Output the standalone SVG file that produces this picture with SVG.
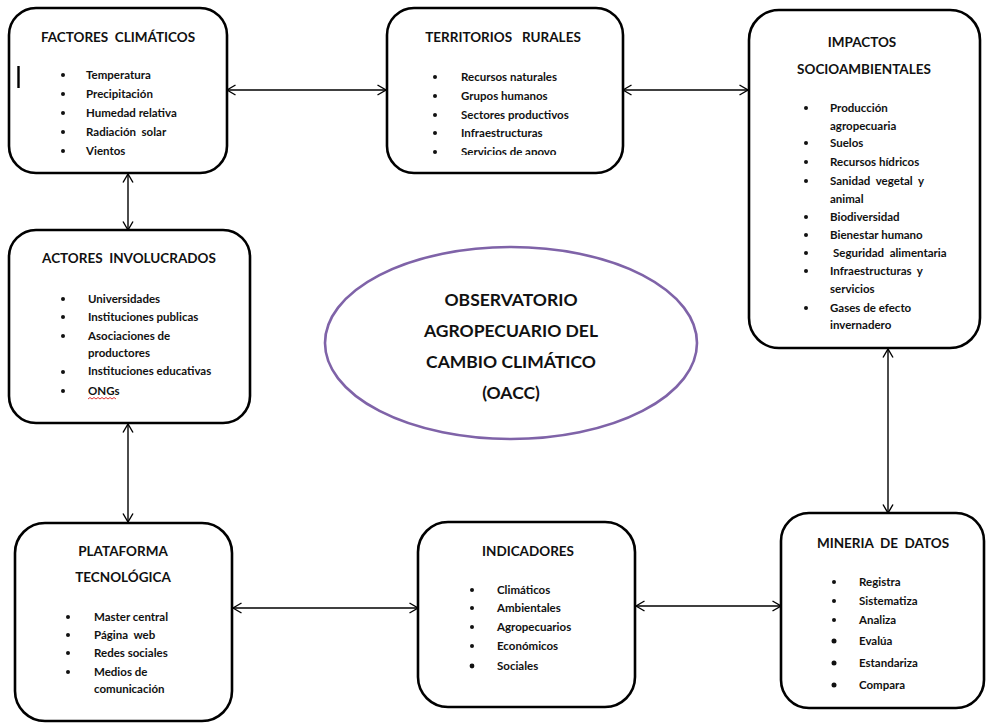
<svg xmlns="http://www.w3.org/2000/svg" width="987" height="724" viewBox="0 0 987 724" xml:space="preserve">
<style>
.box{fill:#fff;stroke:#000;stroke-width:2.6}
text{white-space:pre}
.t{font-family:Lato,"Liberation Sans",sans-serif;font-weight:bold;font-size:13.5px;fill:#111;text-anchor:middle}
.i{font-family:Lato,"Liberation Sans",sans-serif;font-weight:bold;font-size:11.5px;fill:#111}
.c{font-family:Lato,"Liberation Sans",sans-serif;font-weight:bold;font-size:17.5px;fill:#111;text-anchor:middle}
.b{fill:#111}
.con{stroke:#000;stroke-width:1.4;fill:none;marker-start:url(#ah);marker-end:url(#ah)}
</style>
<defs>
<marker id="ah" viewBox="0 0 10 12" refX="9.5" refY="6" markerWidth="10" markerHeight="12" markerUnits="userSpaceOnUse" orient="auto-start-reverse">
<path d="M1,1 L9.5,6 L1,11" fill="none" stroke="#000" stroke-width="1.4"/>
</marker>
<clipPath id="clip2"><rect x="387" y="8" width="236" height="147"/></clipPath>
</defs>
<rect width="987" height="724" fill="#fff"/>
<g id="connectors">
<line class="con" x1="227" y1="90" x2="386" y2="90"/>
<line class="con" x1="623" y1="90" x2="748" y2="90"/>
<line class="con" x1="128" y1="174" x2="128" y2="230"/>
<line class="con" x1="128" y1="424" x2="128" y2="522"/>
<line class="con" x1="888" y1="349" x2="888" y2="513"/>
<line class="con" x1="233" y1="608" x2="418" y2="608"/>
<line class="con" x1="636" y1="606" x2="781" y2="606"/>
</g>
<g id="factores">
<rect class="box" x="9" y="8" width="218" height="165" rx="27"/>
<line x1="18.5" y1="66" x2="18.5" y2="88" stroke="#000" stroke-width="2.4"/>
<text class="t" x="118" y="42">FACTORES  CLIMÁTICOS</text>
<circle class="b" cx="63" cy="75" r="2"/><text class="i" x="86" y="79">Temperatura</text>
<circle class="b" cx="63" cy="94" r="2"/><text class="i" x="86" y="98">Precipitación</text>
<circle class="b" cx="63" cy="113" r="2"/><text class="i" x="86" y="117">Humedad relativa</text>
<circle class="b" cx="63" cy="132" r="2"/><text class="i" x="86" y="136">Radiación  solar</text>
<circle class="b" cx="63" cy="151" r="2"/><text class="i" x="86" y="155">Vientos</text>
</g>
<g id="territorios">
<rect class="box" x="387" y="8" width="236" height="165" rx="27"/>
<text class="t" x="503" y="42">TERRITORIOS   RURALES</text>
<circle class="b" cx="435" cy="77" r="2"/><text class="i" x="461" y="81">Recursos naturales</text>
<circle class="b" cx="435" cy="96" r="2"/><text class="i" x="461" y="100">Grupos humanos</text>
<circle class="b" cx="435" cy="115" r="2"/><text class="i" x="461" y="119">Sectores productivos</text>
<circle class="b" cx="435" cy="133" r="2"/><text class="i" x="461" y="137">Infraestructuras</text>
<circle class="b" cx="435" cy="152" r="2"/><text class="i" x="461" y="156" clip-path="url(#clip2)">Servicios de apoyo</text>
</g>
<g id="impactos">
<rect class="box" x="749" y="10" width="231" height="338" rx="30"/>
<text class="t" x="862" y="47">IMPACTOS</text>
<text class="t" x="864" y="74">SOCIOAMBIENTALES</text>
<circle class="b" cx="806" cy="108" r="2"/><text class="i" x="830" y="112">Producción</text>
<text class="i" x="830" y="130">agropecuaria</text>
<circle class="b" cx="806" cy="143" r="2"/><text class="i" x="830" y="147">Suelos</text>
<circle class="b" cx="806" cy="162" r="2"/><text class="i" x="830" y="166">Recursos hídricos</text>
<circle class="b" cx="806" cy="181" r="2"/><text class="i" x="830" y="185">Sanidad  vegetal  y</text>
<text class="i" x="830" y="203">animal</text>
<circle class="b" cx="806" cy="217" r="2"/><text class="i" x="830" y="221">Biodiversidad</text>
<circle class="b" cx="806" cy="235" r="2"/><text class="i" x="830" y="239">Bienestar humano</text>
<circle class="b" cx="806" cy="253" r="2"/><text class="i" x="833" y="257">Seguridad  alimentaria</text>
<circle class="b" cx="806" cy="271" r="2"/><text class="i" x="830" y="275">Infraestructuras  y</text>
<text class="i" x="830" y="293">servicios</text>
<circle class="b" cx="806" cy="308" r="2"/><text class="i" x="830" y="312">Gases de efecto</text>
<text class="i" x="830" y="329">invernadero</text>
</g>
<g id="actores">
<rect class="box" x="9" y="230" width="241" height="193" rx="27"/>
<text class="t" x="129" y="263">ACTORES  INVOLUCRADOS</text>
<circle class="b" cx="63" cy="299" r="2"/><text class="i" x="88" y="303">Universidades</text>
<circle class="b" cx="63" cy="317" r="2"/><text class="i" x="88" y="321">Instituciones publicas</text>
<circle class="b" cx="63" cy="336" r="2"/><text class="i" x="88" y="340">Asociaciones de</text>
<text class="i" x="88" y="357">productores</text>
<circle class="b" cx="63" cy="372" r="2"/><text class="i" x="88" y="375">Instituciones educativas</text>
<circle class="b" cx="63" cy="391" r="2"/><text class="i" x="88" y="395">ONGs</text>
<path d="M88,399 l2,-1.5 l2,1.5 l2,-1.5 l2,1.5 l2,-1.5 l2,1.5 l2,-1.5 l2,1.5 l2,-1.5 l2,1.5 l2,-1.5 l2,1.5 l2,-1.5 l2,1.5" fill="none" stroke="#e02020" stroke-width="0.9"/>
</g>
<g id="plataforma">
<rect class="box" x="15" y="523" width="217" height="198" rx="30"/>
<text class="t" x="123" y="556">PLATAFORMA</text>
<text class="t" x="123" y="582">TECNOLÓGICA</text>
<circle class="b" cx="68" cy="617" r="2"/><text class="i" x="94" y="621">Master central</text>
<circle class="b" cx="68" cy="635" r="2"/><text class="i" x="94" y="639">Página  web</text>
<circle class="b" cx="68" cy="653" r="2"/><text class="i" x="94" y="657">Redes sociales</text>
<circle class="b" cx="68" cy="672" r="2"/><text class="i" x="94" y="676">Medios de</text>
<text class="i" x="94" y="693">comunicación</text>
</g>
<g id="indicadores">
<rect class="box" x="418" y="522" width="217" height="185" rx="30"/>
<text class="t" x="528" y="556">INDICADORES</text>
<circle class="b" cx="472" cy="590" r="2"/><text class="i" x="497" y="594">Climáticos</text>
<circle class="b" cx="472" cy="608" r="2"/><text class="i" x="497" y="612">Ambientales</text>
<circle class="b" cx="472" cy="627" r="2"/><text class="i" x="497" y="631">Agropecuarios</text>
<circle class="b" cx="472" cy="646" r="2"/><text class="i" x="497" y="650">Económicos</text>
<circle class="b" cx="472" cy="666" r="2.4"/><text class="i" x="497" y="670">Sociales</text>
</g>
<g id="mineria">
<rect class="box" x="781" y="513" width="203" height="195" rx="28"/>
<text class="t" x="883" y="548">MINERIA  DE  DATOS</text>
<circle class="b" cx="834" cy="582" r="2"/><text class="i" x="859" y="586">Registra</text>
<circle class="b" cx="834" cy="601" r="2"/><text class="i" x="859" y="605">Sistematiza</text>
<circle class="b" cx="834" cy="620" r="2"/><text class="i" x="859" y="624">Analiza</text>
<circle class="b" cx="834" cy="641" r="2.5"/><text class="i" x="859" y="645">Evalúa</text>
<circle class="b" cx="834" cy="663" r="2.5"/><text class="i" x="859" y="667">Estandariza</text>
<circle class="b" cx="834" cy="685" r="2.5"/><text class="i" x="859" y="689">Compara</text>
</g>
<g id="oacc">
<ellipse cx="511" cy="343" rx="186" ry="96" fill="#fff" stroke="#7f63a8" stroke-width="2.6"/>
<text class="c" x="511" y="306">OBSERVATORIO</text>
<text class="c" x="511" y="337">AGROPECUARIO DEL</text>
<text class="c" x="511" y="368">CAMBIO CLIMÁTICO</text>
<text class="c" x="511" y="399">(OACC)</text>
</g>
</svg>
